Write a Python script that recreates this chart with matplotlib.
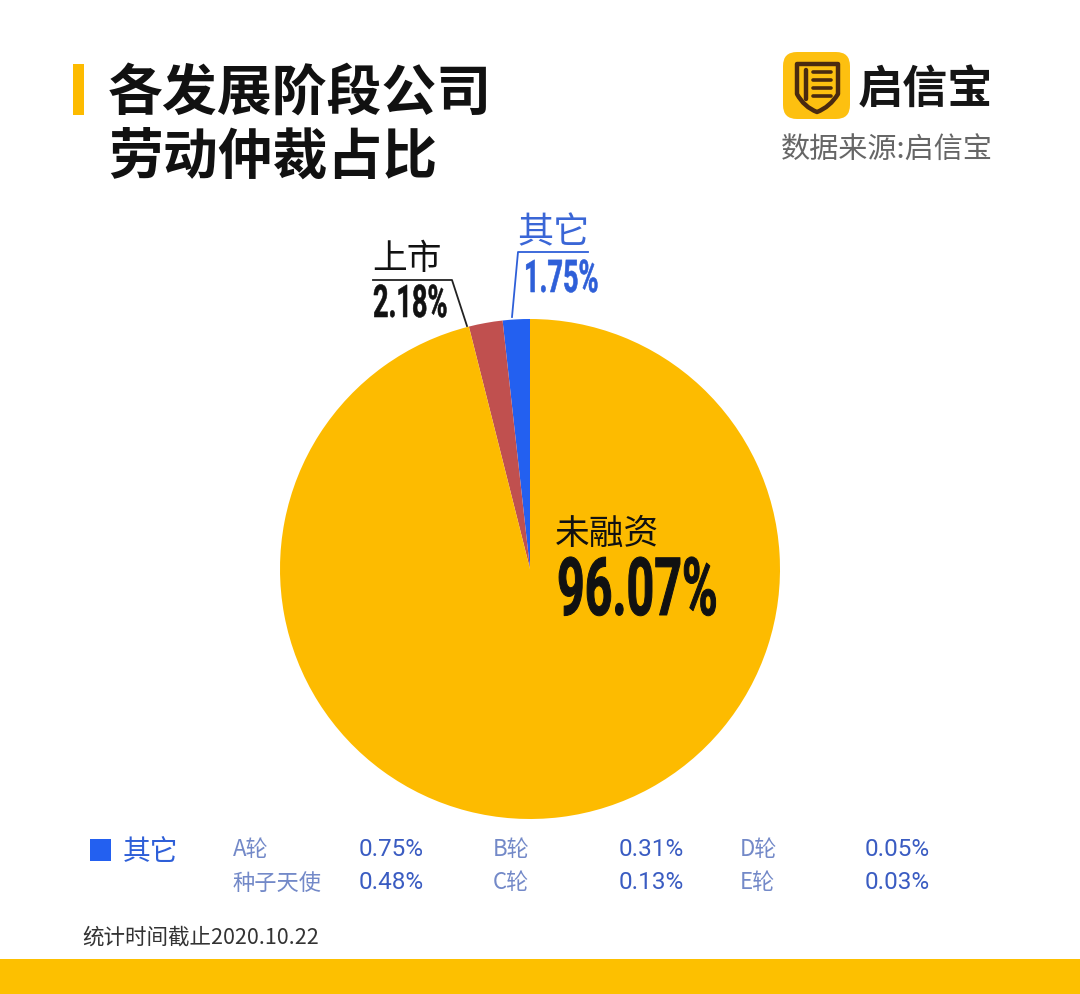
import matplotlib
matplotlib.use("Agg")
import matplotlib.pyplot as plt
from matplotlib.patches import FancyBboxPatch, Rectangle, PathPatch
from matplotlib.path import Path
from matplotlib.patheffects import AbstractPathEffect
from matplotlib.transforms import Affine2D

# ---------------- data ----------------
title_lines = ["各发展阶段公司", "劳动仲裁占比"]
slice_labels = ["其它", "上市", "未融资"]
slice_values = [1.75, 2.18, 96.07]
slice_colors = ["#2360F0", "#C0504F", "#FDBB00"]

legend_title = "其它"
legend_labels = ["A轮", "种子天使", "B轮", "C轮", "D轮", "E轮"]
legend_values = [0.75, 0.48, 0.31, 0.13, 0.05, 0.03]

source_text = "数据来源:启信宝"
brand_text = "启信宝"
footer_text = "统计时间截止2020.10.22"

# ---------------- fonts ----------------
CJK = "Noto Sans CJK SC"
plt.rcParams["font.family"] = [CJK, "DejaVu Sans"]
NUM = dict(family=["Roboto", "DejaVu Sans"], weight="bold")


class Condense(AbstractPathEffect):
    """Squeeze text horizontally and embolden it (text stays a Text artist)."""

    def __init__(self, sx=0.6, lw=1.0):
        super().__init__()
        self.sx = sx
        self.lw = lw

    def draw_path(self, renderer, gc, tpath, affine, rgbFace=None):
        gc0 = renderer.new_gc()
        gc0.copy_properties(gc)
        gc0.set_linewidth(self.lw)
        gc0.set_foreground(rgbFace)
        gc0.set_joinstyle("round")
        renderer.draw_path(gc0, tpath, Affine2D().scale(self.sx, 1) + affine,
                           rgbFace)
        gc0.restore()


W, H = 1080, 995
fig = plt.figure(figsize=(W / 100, H / 100), dpi=100)
fig.patch.set_facecolor("white")
ax = fig.add_axes([0, 0, 1, 1])


def Y(y):
    return H - y


# ---------------- pie ----------------
cx, cy, r = 530, 570, 250
ax.pie(slice_values, colors=slice_colors, startangle=90, counterclock=True,
       center=(cx, Y(cy)), radius=r, wedgeprops=dict(linewidth=0))
ax.set_xlim(0, W)
ax.set_ylim(0, H)
ax.set_aspect("equal")
ax.axis("off")

# ---------------- title ----------------
ax.add_patch(Rectangle((73, Y(116)), 11, 51, color="#FDBB00", lw=0))
ax.text(108, Y(93), title_lines[0], fontsize=39.5, fontweight="heavy",
        color="#111111", va="center", ha="left")
ax.text(108, Y(158), title_lines[1], fontsize=39.5, fontweight="heavy",
        color="#111111", va="center", ha="left")

# ---------------- logo ----------------
ax.add_patch(FancyBboxPatch((783, Y(120)), 67, 67,
                            boxstyle="round,pad=0,rounding_size=14",
                            fc="#FDC010", ec="none"))
shield = Path([(797, Y(65)), (838, Y(65)), (838, Y(95)),
               (830, Y(108)), (817, Y(113)), (804, Y(108)),
               (797, Y(95)), (797, Y(65))],
              [Path.MOVETO, Path.LINETO, Path.LINETO,
               Path.CURVE3, Path.CURVE3, Path.CURVE3, Path.CURVE3,
               Path.CLOSEPOLY])
ax.add_patch(PathPatch(shield, fc="none", ec="#4A2A10", lw=3.2,
                       joinstyle="round"))
ax.plot([806, 806], [Y(71), Y(100)], color="#4A2A10", lw=3.2,
        solid_capstyle="round")
for yy in (73, 81, 89, 97):
    ax.plot([813, 831], [Y(yy), Y(yy)], color="#4A2A10", lw=2.6,
            solid_capstyle="round")
ax.text(858, Y(90), brand_text, fontsize=32.5, fontweight="bold",
        color="#151515", va="center", ha="left")
ax.text(781, Y(151), source_text, fontsize=21, color="#666666",
        va="center", ha="left")

# ---------------- slice labels ----------------
cond_small = [Condense(0.6, 0.4)]
cond_big = [Condense(0.6, 0.7)]
# 其它
ax.plot([512, 518, 588], [Y(318), Y(253), Y(253)], color="#2E5FD8", lw=1.3)
ax.text(517, Y(233), slice_labels[0], fontsize=26, color="#3A66D6",
        va="center", ha="left", fontweight="light")
ax.text(524, Y(281), f"{slice_values[0]:.2f}%", fontsize=32.5, color="#2E5FD8",
        va="center", ha="left", path_effects=cond_small, **NUM)
# 上市
ax.plot([373, 452, 467], [Y(281), Y(281), Y(327)], color="#222222", lw=1.3)
ax.text(372, Y(260), slice_labels[1], fontsize=25, color="#111111",
        va="center", ha="left", fontweight="light")
ax.text(373, Y(306), f"{slice_values[1]:.2f}%", fontsize=32.5, color="#111111",
        va="center", ha="left", path_effects=cond_small, **NUM)
# 未融资
ax.text(555, Y(534), slice_labels[2], fontsize=25, color="#111111",
        va="center", ha="left", fontweight="light")
ax.text(557, Y(594), f"{slice_values[2]:.2f}%", fontsize=58, color="#111111",
        va="center", ha="left", path_effects=cond_big, **NUM)

# ---------------- legend ----------------
ax.add_patch(Rectangle((90, Y(862)), 21, 22, color="#2360F0", lw=0))
ax.text(123, Y(852), legend_title, fontsize=20, color="#2E5FD8",
        va="center", ha="left", fontweight="light")
label_x = [233, 233, 493, 493, 740, 740]
value_x = [359, 359, 619, 619, 865, 865]
row_y = [850, 883, 850, 883, 850, 883]
for lab, val, lx, vx, ry in zip(legend_labels, legend_values, label_x, value_x, row_y):
    ax.text(lx, Y(ry), lab, fontsize=16, color="#7389C8", va="center",
            ha="left", fontweight="light")
    ax.text(vx, Y(ry), f"{val:.2f}%", fontsize=17.5, color="#3A5CC2",
            va="center", ha="left", family=["Roboto", "DejaVu Sans"])

# ---------------- footer ----------------
ax.text(82, Y(938), footer_text, fontsize=15.5, color="#333333",
        va="center", ha="left")
ax.add_patch(Rectangle((0, 0), W, Y(960), color="#FDC000", lw=0))

fig.savefig("out.png", dpi=100, facecolor="white")
